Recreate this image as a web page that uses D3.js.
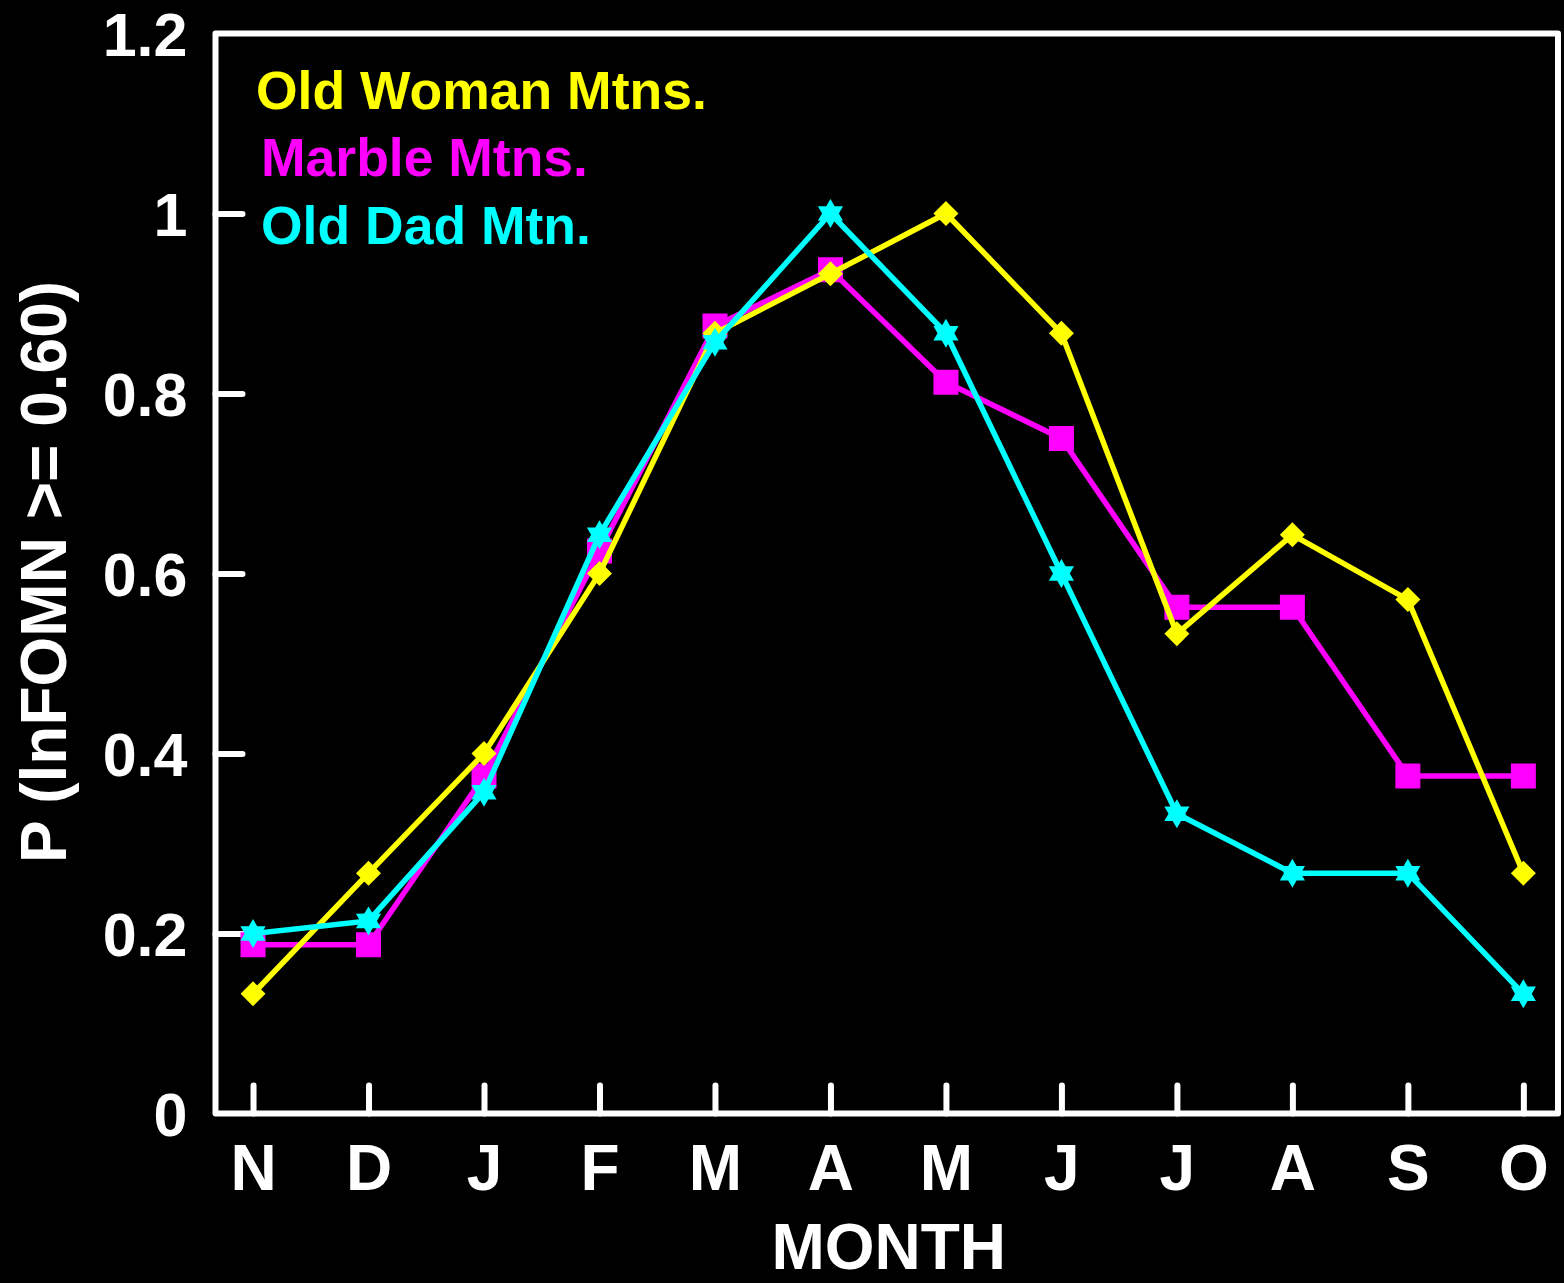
<!DOCTYPE html>
<html>
<head>
<meta charset="utf-8">
<script src="https://cdn.jsdelivr.net/npm/d3@7"></script>
<style>
  html, body { margin: 0; padding: 0; background: #000; }
  svg { display: block; }
  text { font-family: "Liberation Sans", Arial, Helvetica, sans-serif; font-weight: bold; }
</style>
</head>
<body>
<svg id="chart" width="1564" height="1283"></svg>
<script>
// ---- data ----
const months = ["N", "D", "J", "F", "M", "A", "M", "J", "J", "A", "S", "O"];
const oldWoman = [0.133, 0.267, 0.400, 0.600, 0.867, 0.933, 1.000, 0.867, 0.533, 0.643, 0.571, 0.267];
const marble   = [0.1875, 0.1875, 0.375, 0.625, 0.875, 0.9375, 0.8125, 0.750, 0.5625, 0.5625, 0.375, 0.375];
const oldDad   = [0.200, 0.214, 0.357, 0.643, 0.857, 1.000, 0.867, 0.600, 0.333, 0.267, 0.267, 0.133];
const yTicks = [0, 0.2, 0.4, 0.6, 0.8, 1, 1.2];
const yTickLabels = ["0", "0.2", "0.4", "0.6", "0.8", "1", "1.2"];
const seriesNames = ["Old Woman Mtns.", "Marble Mtns.", "Old Dad Mtn."];
const seriesColors = ["#ffff00", "#ff00ff", "#00ffff"];

(function () {
// ---- layout ----
const W = 1564, H = 1283;
const pL = 215.5, pR = 1558, pT = 33.5, pB = 1113.5;

const svg = d3.select("#chart");
svg.append("rect").attr("width", W).attr("height", H).attr("fill", "#000");

const x = d3.scaleLinear().domain([0.675, 12.30]).range([pL, pR]);
const y = d3.scaleLinear().domain([0, 1.2]).range([pB, pT]);

// y axis ticks (inward) + labels
const yAxis = d3.axisLeft(y)
  .tickValues(yTicks)
  .tickSize(-27)
  .tickPadding(28)
  .tickFormat((d, i) => yTickLabels[i]);
const gy = svg.append("g").attr("transform", `translate(${pL},0)`).call(yAxis);
gy.select(".domain").remove();
gy.selectAll(".tick line").attr("stroke", "#fff").attr("stroke-width", 6).attr("stroke-linecap", "round");
gy.selectAll(".tick text").attr("fill", "#fff").attr("font-size", 61)
  .attr("font-family", '"Liberation Sans", Arial, sans-serif').attr("font-weight", "bold")
  .attr("dy", "0.36em");
gy.selectAll(".tick").filter(d => d === 0 || d === 1.2).select("line").remove();

// x axis ticks (inward) + labels
const xIdx = months.map((m, i) => i + 1);
const xAxis = d3.axisBottom(x)
  .tickValues(xIdx)
  .tickSize(-28)
  .tickPadding(31)
  .tickFormat((d) => months[d - 1]);
const gx = svg.append("g").attr("transform", `translate(0,${pB})`).call(xAxis);
gx.select(".domain").remove();
gx.selectAll(".tick line").attr("stroke", "#fff").attr("stroke-width", 6).attr("stroke-linecap", "round");
gx.selectAll(".tick text").attr("fill", "#fff").attr("font-size", 64)
  .attr("font-family", '"Liberation Sans", Arial, sans-serif').attr("font-weight", "bold");

// frame
svg.append("rect")
  .attr("x", pL).attr("y", pT)
  .attr("width", pR - pL).attr("height", pB - pT)
  .attr("fill", "none").attr("stroke", "#fff").attr("stroke-width", 6)
  .attr("stroke-linejoin", "round");

// axis titles
svg.append("text")
  .attr("x", (pL + pR) / 2 + 2).attr("y", 1269)
  .attr("text-anchor", "middle").attr("fill", "#fff").attr("font-size", 64)
  .text("MONTH");
svg.append("text")
  .attr("transform", "translate(66,572) rotate(-90)")
  .attr("text-anchor", "middle").attr("fill", "#fff").attr("font-size", 64)
  .text("P (lnFOMN >= 0.60)");

// markers
function hexagram(R) {
  const r = R * 0.58;
  const pts = [];
  for (let k = 0; k < 12; k++) {
    const a = -Math.PI / 2 + k * Math.PI / 6;
    const rr = k % 2 === 0 ? R : r;
    pts.push([rr * Math.cos(a), rr * Math.sin(a)]);
  }
  return "M" + pts.map(p => p[0].toFixed(2) + "," + p[1].toFixed(2)).join("L") + "Z";
}
const squarePath = d3.symbol().type(d3.symbolSquare).size(625)();
const diamondPath = d3.symbol().type(d3.symbolSquare).size(312)();
const starPath = hexagram(14.5);

const line = d3.line().x((d, i) => x(i + 1)).y(d => y(d));

const drawOrder = [
  { vals: marble, color: seriesColors[1], marker: squarePath, rot: 0 },
  { vals: oldWoman, color: seriesColors[0], marker: diamondPath, rot: 45 },
  { vals: oldDad, color: seriesColors[2], marker: starPath, rot: 0 }
];

drawOrder.forEach(s => {
  const g = svg.append("g");
  g.append("path").datum(s.vals)
    .attr("d", line)
    .attr("fill", "none").attr("stroke", s.color).attr("stroke-width", 5.5)
    .attr("stroke-linejoin", "miter");
  g.selectAll("path.m").data(s.vals).enter().append("path")
    .attr("class", "m")
    .attr("d", s.marker)
    .attr("transform", (d, i) => `translate(${x(i + 1)},${y(d)}) rotate(${s.rot})`)
    .attr("fill", s.color);
});

// legend
const legendPos = [[256, 109], [261, 176], [261, 244]];
seriesNames.forEach((name, i) => {
  svg.append("text")
    .attr("x", legendPos[i][0]).attr("y", legendPos[i][1])
    .attr("fill", seriesColors[i]).attr("font-size", 53.5)
    .text(name);
});
})();
</script>
</body>
</html>
